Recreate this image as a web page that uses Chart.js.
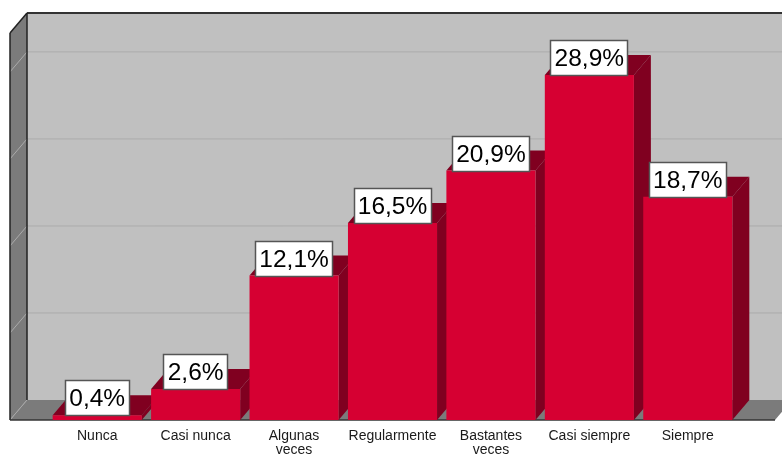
<!DOCTYPE html>
<html>
<head>
<meta charset="utf-8">
<style>
  html, body { margin: 0; padding: 0; background: #fff; }
  canvas { display: block; }
</style>
<script src="https://cdn.jsdelivr.net/npm/chart.js@4"></script>
</head>
<body>
<canvas id="chart" width="782" height="454"></canvas>
<script>
var categories = ["Nunca", "Casi nunca", ["Algunas", "veces"], "Regularmente", ["Bastantes", "veces"], "Casi siempre", "Siempre"];
var percentValues = [0.4, 2.6, 12.1, 16.5, 20.9, 28.9, 18.7];
var gridValues = [7.29, 14.58, 21.87, 29.16];

var depthX = 17;
var depthY = 20;

function poly(ctx, pts, fill) {
    ctx.beginPath();
    ctx.moveTo(pts[0][0], pts[0][1]);
    for (var i = 1; i < pts.length; i++)
        ctx.lineTo(pts[i][0], pts[i][1]);
    ctx.closePath();
    ctx.fillStyle = fill;
    ctx.fill();
}

function line(ctx, x1, y1, x2, y2, color, width) {
    ctx.beginPath();
    ctx.moveTo(x1, y1);
    ctx.lineTo(x2, y2);
    ctx.strokeStyle = color;
    ctx.lineWidth = width;
    ctx.stroke();
}

var box3d = {
    id: "box3d",
    beforeDatasetsDraw: function(chart) {
        var ctx = chart.ctx, area = chart.chartArea, y = chart.scales.y;
        var left = area.left - 38, right = area.right + 38;
        var top = area.top, bottom = area.bottom;

        ctx.save();
        // walls and floor
        poly(ctx, [[left + depthX, top - depthY], [right + depthX, top - depthY], [right + depthX, bottom - depthY], [left + depthX, bottom - depthY]], "#c0c0c0");
        poly(ctx, [[left, top], [left + depthX, top - depthY], [left + depthX, bottom - depthY], [left, bottom]], "#7b7b7b");
        poly(ctx, [[left, bottom], [left + depthX, bottom - depthY], [right + depthX, bottom - depthY], [right, bottom]], "#7b7b7b");

        gridValues.forEach(function(v) {
            var py = y.getPixelForValue(v);
            line(ctx, left, py, left + depthX, py - depthY, "#ababab", 1);
            line(ctx, left + depthX, py - depthY, right + depthX, py - depthY, "#ababab", 1);
        });
        line(ctx, left, bottom, left + depthX, bottom - depthY, "#a8a8a8", 1);

        line(ctx, left + depthX, top - depthY, right + depthX, top - depthY, "#333333", 2);
        line(ctx, left, top, left + depthX, top - depthY, "#222222", 1.5);
        line(ctx, left, top, left, bottom, "#222222", 1.5);
        line(ctx, left + depthX, top - depthY, left + depthX, bottom - depthY, "#222222", 1.5);
        line(ctx, left, bottom, right, bottom, "#333333", 1.5);

        // top and side of the bars, the front comes from the dataset
        chart.getDatasetMeta(0).data.forEach(function(bar) {
            var half = bar.width / 2;
            var l = bar.x - half, r = bar.x + half, t = bar.y, b = bar.base;
            poly(ctx, [[l, t], [l + depthX, t - depthY], [r + depthX, t - depthY], [r, t]], "#800020");
            poly(ctx, [[r, t], [r + depthX, t - depthY], [r + depthX, b - depthY], [r, b]], "#800020");
        });
        ctx.restore();
    },
    afterDatasetsDraw: function(chart) {
        var ctx = chart.ctx;
        ctx.save();
        ctx.font = "24.5px 'Liberation Sans'";
        ctx.textAlign = "center";
        ctx.textBaseline = "middle";
        chart.getDatasetMeta(0).data.forEach(function(bar, i) {
            var text = percentValues[i].toFixed(1).replace(".", ",") + "%";
            var w = Math.round(ctx.measureText(text).width) + 9;
            var x = Math.round(bar.x - w / 2), y = Math.round(bar.y) - 35;
            ctx.fillStyle = "#ffffff";
            ctx.fillRect(x, y, w, 36);
            ctx.strokeStyle = "#555555";
            ctx.lineWidth = 1.5;
            ctx.strokeRect(x + 0.5, y + 0.5, w - 1, 35);
            ctx.fillStyle = "#000000";
            ctx.fillText(text, bar.x, y + 19);
        });
        ctx.restore();
    }
};

new Chart(document.getElementById("chart"), {
    type: "bar",
    data: {
        labels: categories,
        datasets: [{
            data: percentValues,
            backgroundColor: "#d60032",
            borderWidth: 0,
            barPercentage: 1,
            categoryPercentage: 0.905
        }]
    },
    options: {
        responsive: false,
        animation: false,
        layout: { padding: { left: 48, right: 45, top: 33, bottom: 0 } },
        plugins: { legend: { display: false }, tooltip: { enabled: false } },
        scales: {
            x: {
                grid: { display: false, drawTicks: false },
                border: { display: false },
                afterFit: function(scale) { scale.height = 34; },
                ticks: {
                    color: "#1a1a1a",
                    padding: 9,
                    maxRotation: 0,
                    autoSkip: false,
                    font: { family: "'Liberation Sans'", size: 14, lineHeight: 1 }
                }
            },
            y: { display: false, min: 0, max: 32.42 }
        }
    },
    plugins: [box3d]
});
</script>
</body>
</html>
